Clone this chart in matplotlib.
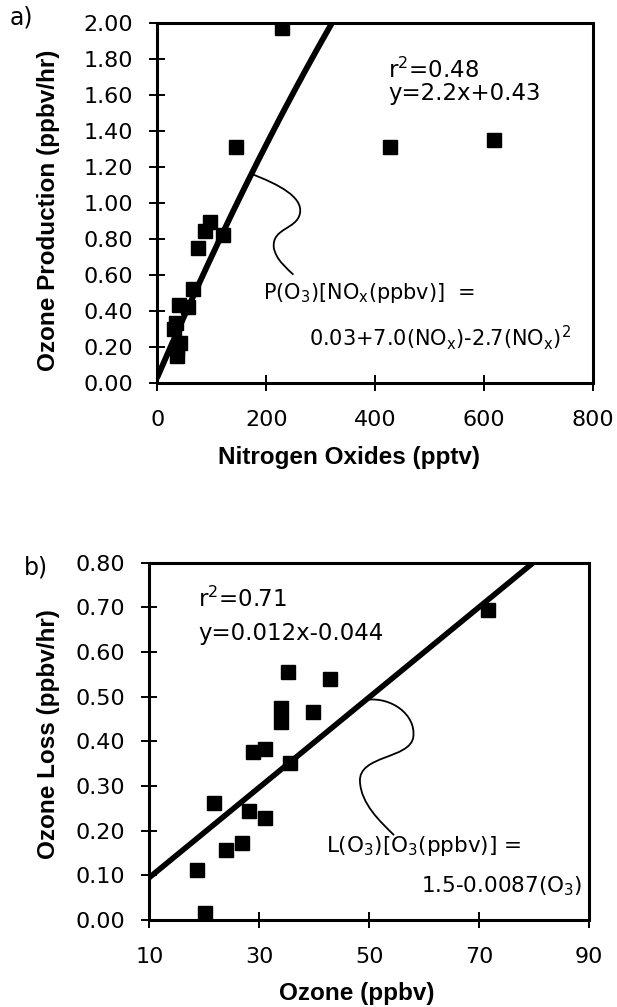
import matplotlib
matplotlib.use("Agg")
import matplotlib.pyplot as plt
import numpy as np
from matplotlib.path import Path
from matplotlib.patches import PathPatch

plt.rcParams['font.family'] = ['DejaVu Sans']
plt.rcParams['mathtext.default'] = 'regular'

# panel a: ozone production vs NOx
nox = [229, 145, 428, 618, 96, 88, 121, 75, 66, 57, 39, 34, 31, 41, 37, 36]
o3_prod = [1.97, 1.31, 1.31, 1.35, 0.89, 0.84, 0.82, 0.75, 0.52, 0.42, 0.43,
           0.33, 0.30, 0.22, 0.15, 0.19]
# P(O3) = 0.03 + 7.0 NOx - 2.7 NOx^2  (NOx in ppbv)
poly_a = [0.03, 7.0, -2.7]

# panel b: ozone loss vs ozone
ozone = [71.5, 35.3, 42.9, 33.9, 33.9, 39.8, 28.9, 31.0, 35.5, 21.8, 28.2,
         31.0, 26.8, 24.0, 18.7, 20.1]
o3_loss = [0.695, 0.556, 0.539, 0.474, 0.444, 0.466, 0.377, 0.382, 0.351,
           0.261, 0.245, 0.228, 0.172, 0.156, 0.113, 0.015]
# line as drawn in the figure
line_b_slope = 0.0101
line_b_icpt = -0.006

xticks_a = [0, 200, 400, 600, 800]
yticks_a = [0.0, 0.2, 0.4, 0.6, 0.8, 1.0, 1.2, 1.4, 1.6, 1.8, 2.0]
xticks_b = [10, 30, 50, 70, 90]
yticks_b = [0.0, 0.1, 0.2, 0.3, 0.4, 0.5, 0.6, 0.7, 0.8]

fig = plt.figure(figsize=(6.17, 10.07), dpi=100)
ax1 = fig.add_axes([0.255, 0.620, 0.7057, 0.3575])
ax2 = fig.add_axes([0.242, 0.0864, 0.7131, 0.3548])


def style(ax):
    for s in ax.spines.values():
        s.set_linewidth(2.2)
    ax.tick_params(direction='inout', length=11, width=1.4, labelsize=16,
                   top=False, right=False)
    ax.tick_params(axis='y', pad=12)
    ax.tick_params(axis='x', pad=14)


def connector(ax, pts):
    codes = [Path.MOVETO] + [Path.CURVE4] * (len(pts) - 1)
    ax.add_patch(PathPatch(Path(pts, codes), fill=False, lw=1.3, color='black'))


# ---- a)
ax = ax1
ax.plot(nox, o3_prod, 's', color='black', ms=10, zorder=3)
xs = np.linspace(0, 330, 200)
ppb = xs / 1000.0
ax.plot(xs, poly_a[0] + poly_a[1] * ppb + poly_a[2] * ppb ** 2, color='black', lw=4.2,
        solid_capstyle='round')
ax.set_xlim(0, 800)
ax.set_ylim(0, 2.0)
ax.set_xticks(xticks_a)
ax.set_yticks(yticks_a)
ax.set_yticklabels(['%.2f' % v for v in yticks_a])
style(ax)
ax.set_xlabel('Nitrogen Oxides (pptv)', family='Liberation Sans', weight='bold',
              size=17.5, va='baseline')
ax.xaxis.set_label_coords(0.44, -0.226)
ax.set_ylabel('Ozone Production (ppbv/hr)', family='Liberation Sans', weight='bold',
              size=17.5, va='center')
ax.yaxis.set_label_coords(-0.249, 0.48)
ax.text(424, 1.695, 'r$^2$=0.48', size=16.5)
ax.text(424, 1.569, 'y=2.2x+0.43', size=16.5)
ax.text(195, 0.464, 'P(O$_3$)[NO$_x$(ppbv)]  =', size=15)
ax.text(760, 0.204, '0.03+7.0(NO$_x$)-2.7(NO$_x$)$^2$', size=15, ha='right')
connector(ax, [(170, 1.163), (225, 1.10), (268, 1.03), (262, 0.94),
               (256, 0.85), (210, 0.86), (214, 0.75),
               (218, 0.68), (240, 0.63), (250, 0.60)])
fig.text(10 / 617, 1 - 25 / 1007, 'a)', size=17)

# ---- b)
ax = ax2
ax.plot(ozone, o3_loss, 's', color='black', ms=10, zorder=3, clip_on=False)
xl = np.array([10, 80])
ax.plot(xl, line_b_slope * xl + line_b_icpt, color='black', lw=4)
ax.set_xlim(10, 90)
ax.set_ylim(0, 0.8)
ax.set_xticks(xticks_b)
ax.set_yticks(yticks_b)
ax.set_yticklabels(['%.2f' % v for v in yticks_b])
style(ax)
ax.set_xlabel('Ozone (ppbv)', family='Liberation Sans', weight='bold',
              size=17.5, va='baseline')
ax.xaxis.set_label_coords(0.472, -0.224)
ax.set_ylabel('Ozone Loss (ppbv/hr)', family='Liberation Sans', weight='bold',
              size=17.5, va='center')
ax.yaxis.set_label_coords(-0.230, 0.52)
ax.text(18.9, 0.702, 'r$^2$=0.71', size=16.5)
ax.text(18.9, 0.628, 'y=0.012x-0.044', size=16.5)
ax.text(42.2, 0.152, 'L(O$_3$)[O$_3$(ppbv)] =', size=15.5)
ax.text(88.7, 0.062, '1.5-0.0087(O$_3$)', size=15.5, ha='right')
connector(ax, [(49.5, 0.493), (54, 0.50), (58.5, 0.46), (58, 0.41),
               (57.5, 0.36), (48, 0.37), (48.3, 0.31),
               (48.5, 0.26), (52, 0.22), (54.5, 0.19)])
fig.text(24 / 617, 1 - 575 / 1007, 'b)', size=17)

fig.savefig('out.png', dpi=100)
